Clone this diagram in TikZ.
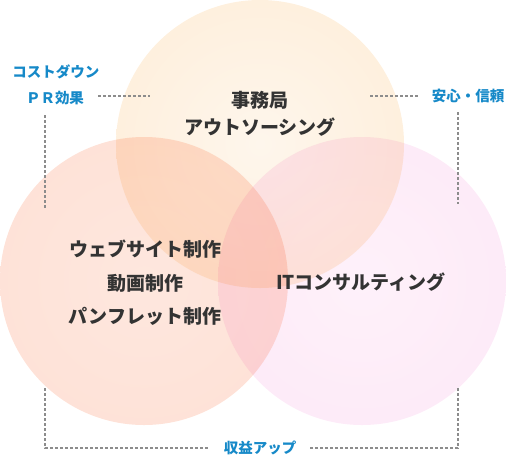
\documentclass[tikz,border=0pt]{standalone}
\usepackage{fontspec}
\setmainfont{Noto Sans CJK JP}
\usetikzlibrary{positioning}

\definecolor{tagblue}{RGB}{22,137,200}
\definecolor{inkgray}{RGB}{51,51,51}
\definecolor{guidegray}{RGB}{140,140,140}
\definecolor{topin}{HTML}{FEF6EC}
\definecolor{topout}{HTML}{FDDDB3}
\definecolor{leftin}{HTML}{FEE7DE}
\definecolor{leftout}{HTML}{FDD4C5}
\definecolor{rightin}{HTML}{FEF1FA}
\definecolor{rightout}{HTML}{FBD8F0}

\pgfdeclareradialshading{topshade}{\pgfpoint{0bp}{0bp}}{%
  color(0bp)=(topin); color(30bp)=(topin!70!topout); color(50bp)=(topout)}
\pgfdeclareradialshading{leftshade}{\pgfpoint{0bp}{0bp}}{%
  color(0bp)=(leftin); color(30bp)=(leftin!70!leftout); color(50bp)=(leftout)}
\pgfdeclareradialshading{rightshade}{\pgfpoint{0bp}{0bp}}{%
  color(0bp)=(rightin); color(30bp)=(rightin!70!rightout); color(50bp)=(rightout)}

\begin{document}
\begin{tikzpicture}[
  x=1pt, y=-1pt,
  venn/.style={
    circle,
    minimum size=288pt,
    inner sep=0pt,
    shading=#1,
    blend mode=multiply,
  },
  field/.style={
    font=\fontsize{19}{#1}\selectfont\bfseries,
    text=inkgray,
    align=center,
  },
  tag/.style={
    font=\fontsize{14.5}{17}\selectfont\bfseries,
    text=tagblue,
    inner xsep=14pt,
    inner ysep=2pt,
  },
  guide/.style={
    draw=guidegray,
    line width=1.1pt,
    dash pattern=on 3pt off 2pt,
  },
]

\useasboundingbox (0,0) rectangle (506,459);

% ============================================================
% CIRCLES
% ============================================================
\node[venn=topshade]   (topcircle)   at (260,144) {};
\node[venn=leftshade]  (leftcircle)  at (144,281) {};
\node[venn=rightshade] (rightcircle) at (362,281) {};

% ============================================================
% FIELD LABELS
% ============================================================
\node[field=27]   (admin)    at (260,113.5) {事務局\\アウトソーシング};
\node[field=33.5] (creative) at (145,283)   {ウェブサイト制作\\動画制作\\パンフレット制作};
\node[field=27]   (itcons)   at (361,282)   {ITコンサルティング};

% ============================================================
% BENEFIT TAGS
% ============================================================
\node[tag] (costdown) at (56,72)   {コストダウン};
\node[tag] (prfx)     at (55,98)   {ＰＲ効果};
\node[tag] (trust)    at (468,96)  {安心・信頼};
\node[tag] (revenue)  at (260,448) {収益アップ};

% ============================================================
% GUIDE LINES
% ============================================================
\coordinate (pr-end)    at (150,96);
\coordinate (trust-end) at (369,96);
\coordinate (lt-top)    at (45,115);
\coordinate (lt-bot)    at (45,208);
\coordinate (rt-top)    at (458,112);
\coordinate (rt-bot)    at (458,204);
\coordinate (lb-top)    at (45,388);
\coordinate (rb-top)    at (458,388);

\draw[guide] (prfx.east |- pr-end) -- (pr-end);
\draw[guide] (trust.west |- trust-end) -- (trust-end);
\draw[guide] (lt-top) -- (lt-bot);
\draw[guide] (rt-top) -- (rt-bot);
\draw[guide] (lb-top) |- (revenue.west);
\draw[guide] (rb-top) |- (revenue.east);

\end{tikzpicture}
\end{document}
